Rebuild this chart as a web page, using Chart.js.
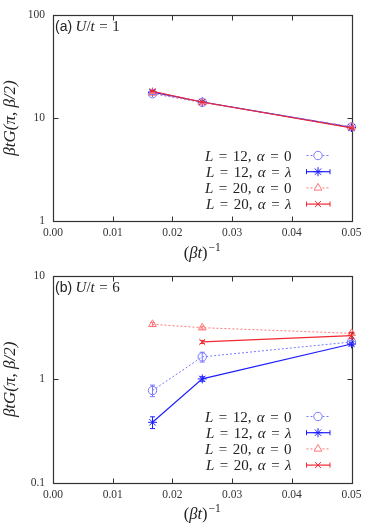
<!DOCTYPE html>
<html>
<head>
<meta charset="utf-8">
<script src="https://cdn.jsdelivr.net/npm/chart.js@4.4.1/dist/chart.umd.min.js"></script>
<style>
  html, body { margin:0; padding:0; background:#fff; }
  #wrap { position:relative; width:374px; height:523px; overflow:hidden; }
  canvas { position:absolute; left:0; }
</style>
</head>
<body>
<div id="wrap">
  <canvas id="cA" width="374" height="268" style="top:0px"></canvas>
  <canvas id="cB" width="374" height="262" style="top:261px"></canvas>
</div>
<script>
// ---------- DATA ----------
const xValues = [0.01667, 0.025, 0.05];
const xTicks = [0, 0.01, 0.02, 0.03, 0.04, 0.05];
const yTicksA = [1, 10, 100];
const yTicksB = [0.1, 1, 10];
const seriesLabels = ["L = 12, α = 0", "L = 12, α = λ", "L = 20, α = 0", "L = 20, α = λ"];
const panelTagA = "(a)";
const panelTextA = "U/t = 1";
const panelTagB = "(b)";
const panelTextB = "U/t = 6";
const yTitle = "βtG(π, β/2)";
const xTitleBase = "(βt)";
const xTitleSup = "−1";

// panel (a) U/t = 1
const a_L12_a0 = [17.2, 14.2, 8.2];
const a_L12_a0_err = [0.2, 0.2, 0.12];
const a_L12_al = [17.8, 14.3, 8.1];
const a_L12_al_err = [0.2, 0.2, 0.12];
const a_L20_a0 = [17.5, 14.1, 8.2];
const a_L20_a0_err = [0.2, 0.2, 0.12];
const a_L20_al = [18.2, 14.3, 8.0];
const a_L20_al_err = [0.2, 0.2, 0.12];

// panel (b) U/t = 6
const b_L12_a0 = [0.78, 1.65, 2.30];
const b_L12_a0_err = [0.10, 0.18, 0.08];
const b_L12_al = [0.384, 1.01, 2.20];
const b_L12_al_err = [0.05, 0.05, 0.05];
const b_L20_a0 = [3.41, 3.16, 2.79];
const b_L20_a0_err = [0.15, 0.10, 0.08];
const b_L20_al = [null, 2.30, 2.65];
const b_L20_al_err = [0, 0.08, 0.18];

// ---------- STYLES ----------
const styles = [
  { color:'rgb(120,120,255)', dash:[2,2], width:1, point:'circle', radius:4.2, caps:false },
  { color:'rgb(30,30,255)', dash:[], width:1.2, point:'star', radius:4.5, caps:true },
  { color:'rgb(255,120,120)', dash:[2,2], width:1, point:'triangle', radius:4.5, caps:false },
  { color:'rgb(240,40,50)', dash:[], width:1.2, point:'crossRot', radius:4.2, caps:true }
];

function pts(ys, errs) {
  const out = [];
  xValues.forEach((x, i) => { if (ys[i] !== null) out.push({x:x, y:ys[i], e:errs[i]}); });
  return out;
}

function italicRuns(str) {
  const runs = [];
  for (const ch of str) {
    const kind = ch === ' ' ? 'sp' : (/[A-Za-z\u03b1-\u03c9]/.test(ch) ? 'it' : 'rm');
    if (runs.length && runs[runs.length-1].k === kind) runs[runs.length-1].t += ch;
    else runs.push({t:ch, k:kind});
  }
  return runs;
}

function measureRich(ctx, str, size, spaceEm) {
  const runs = italicRuns(str);
  let w = 0;
  runs.forEach(r => {
    r.f = (r.k === 'it' ? 'italic ' : '') + size + 'px "Liberation Serif", serif';
    if (r.k === 'sp') r.w = r.t.length * size * spaceEm;
    else { ctx.font = r.f; r.w = ctx.measureText(r.t).width; }
    w += r.w;
  });
  return {runs, w};
}

function drawRich(ctx, str, x, y, size, align, spaceEm) {
  const m = measureRich(ctx, str, size, spaceEm || 0.25);
  let cx = align === 'right' ? x - m.w : (align === 'center' ? x - m.w/2 : x);
  ctx.textAlign = 'left';
  m.runs.forEach(r => { if (r.k !== 'sp') { ctx.font = r.f; ctx.fillText(r.t, cx, y); } cx += r.w; });
  return m.w;
}

const errorBars = {
  id:'errorBars',
  afterDatasetsDraw(chart) {
    const {ctx, scales:{x, y}} = chart;
    ctx.save();
    chart.data.datasets.forEach((ds, di) => {
      const st = styles[di];
      ctx.strokeStyle = st.color; ctx.lineWidth = 1; ctx.setLineDash([]);
      ds.data.forEach(p => {
        if (!p.e) return;
        const px = x.getPixelForValue(p.x);
        const y1 = y.getPixelForValue(p.y - p.e), y2 = y.getPixelForValue(p.y + p.e);
        ctx.beginPath();
        ctx.moveTo(px, y1); ctx.lineTo(px, y2);
        ctx.moveTo(px-2.5, y1); ctx.lineTo(px+2.5, y1);
        ctx.moveTo(px-2.5, y2); ctx.lineTo(px+2.5, y2);
        ctx.stroke();
      });
    });
    ctx.restore();
  }
};

const framePlugin = {
  id:'frame',
  beforeDatasetsDraw(chart) {
    const {ctx, chartArea:a, scales:{x, y}} = chart;
    ctx.save();
    ctx.strokeStyle = '#333'; ctx.lineWidth = 1;
    const L = Math.round(a.left)+0.5, R = Math.round(a.right)+0.5, T = Math.round(a.top)+0.5, B = Math.round(a.bottom)+0.5;
    ctx.beginPath();
    x.ticks.forEach(t => {
      const px = Math.round(x.getPixelForValue(t.value)) + 0.5;
      ctx.moveTo(px, B); ctx.lineTo(px, B-5);
      ctx.moveTo(px, T); ctx.lineTo(px, T+5);
    });
    y.ticks.forEach(t => {
      const py = Math.round(y.getPixelForValue(t.value)) + 0.5;
      ctx.moveTo(L, py); ctx.lineTo(L+5, py);
      ctx.moveTo(R, py); ctx.lineTo(R-5, py);
    });
    ctx.stroke();
    ctx.lineWidth = 1.2;
    ctx.strokeRect(L, T, R-L, B-T);
    ctx.restore();
  },
  afterDraw(chart, args, opts) {
    const {ctx, chartArea:a} = chart;
    ctx.save();
    ctx.fillStyle = '#222';
    ctx.textBaseline = 'alphabetic';
    // x axis title with superscript
    const base = measureRich(ctx, xTitleBase, 16.5, 0.25);
    ctx.font = '11.5px "Liberation Serif", serif';
    const supW = ctx.measureText(xTitleSup).width;
    const cxm = (a.left + a.right) / 2;
    const startX = cxm - (base.w + supW + 1) / 2;
    const by = a.bottom + 36.5;
    drawRich(ctx, xTitleBase, startX, by, 16.5, 'left', 0.25);
    ctx.font = '11.5px "Liberation Serif", serif';
    ctx.textAlign = 'left';
    ctx.fillText(xTitleSup, startX + base.w + 1, by - 7);
    // panel label
    ctx.font = '14px "Liberation Sans", Arial, sans-serif';
    ctx.textAlign = 'left';
    ctx.fillText(opts.tag, a.left + 2, a.top + 16);
    const tw = ctx.measureText(opts.tag).width;
    drawRich(ctx, opts.text, a.left + 2 + tw + 3.5, a.top + 16, 15, 'left', 0.3);
    // legend
    chart.data.datasets.forEach((ds, i) => {
      const st = styles[i];
      const cy = a.top + 140.5 + i * 16.2;
      ctx.fillStyle = '#222';
      drawRich(ctx, ds.label, a.right - 60, cy + 5, 15, 'right', 0.36);
      const x1 = a.right - 45, x2 = a.right - 21.5, mx = a.right - 33.5;
      ctx.strokeStyle = st.color; ctx.lineWidth = st.width;
      ctx.setLineDash(st.dash);
      ctx.beginPath(); ctx.moveTo(x1, cy); ctx.lineTo(x2, cy); ctx.stroke();
      ctx.setLineDash([]);
      if (st.caps) {
        ctx.lineWidth = 1;
        ctx.beginPath();
        ctx.moveTo(x1, cy-2.5); ctx.lineTo(x1, cy+2.5);
        ctx.moveTo(x2, cy-2.5); ctx.lineTo(x2, cy+2.5);
        ctx.stroke();
      }
      ctx.lineWidth = 1;
      ctx.fillStyle = '#fff';
      Chart.helpers.drawPoint(ctx, {pointStyle:st.point, radius:st.radius, borderWidth:1, rotation:0}, mx, cy);
    });
    ctx.restore();
  }
};

function makeChart(id, series, yTicks, yMin, yMax, tag, text, xAxisH, topPad) {
  const datasets = series.map((s, i) => ({
    label: seriesLabels[i],
    data: pts(s[0], s[1]),
    order: 3 - i,
    borderColor: styles[i].color,
    backgroundColor: 'rgba(0,0,0,0)',
    borderWidth: styles[i].width,
    borderDash: styles[i].dash,
    pointStyle: styles[i].point,
    pointRadius: styles[i].radius,
    pointBorderWidth: 1,
    pointBorderColor: styles[i].color,
    pointBackgroundColor: 'rgba(0,0,0,0)',
    tension: 0,
    fill: false,
    clip: false
  }));
  return new Chart(document.getElementById(id), {
    type: 'line',
    data: { datasets },
    options: {
      responsive: false,
      animation: false,
      devicePixelRatio: 1,
      layout: { padding: { left:0, right:22.5, top:topPad, bottom:0 } },
      plugins: {
        legend: { display:false },
        tooltip: { enabled:false },
        frame: { tag: tag, text: text }
      },
      scales: {
        x: {
          type: 'linear', min: 0, max: 0.05,
          afterBuildTicks: s => { s.ticks = xTicks.map(v => ({value:v})); },
          afterFit: s => { s.height = xAxisH; },
          ticks: { padding: 5, color:'#333', font:{ family:'"Liberation Serif", serif', size:11.5 }, callback: v => Number(v).toFixed(2), maxRotation:0 },
          grid: { display:false, drawTicks:false },
          border: { display:false },
          title: { display:false }
        },
        y: {
          type: 'logarithmic', min: yMin, max: yMax,
          afterBuildTicks: s => { s.ticks = yTicks.map(v => ({value:v})); },
          afterFit: s => { s.width = 53; },
          ticks: { padding: 8, color:'#333', font:{ family:'"Liberation Serif", serif', size:11.5 }, callback: v => String(v) },
          grid: { display:false, drawTicks:false },
          border: { display:false },
          title: { display:true, text:yTitle, color:'#222', padding:{top:2, bottom:0}, font:{ family:'"Liberation Serif", serif', size:17, style:'italic', lineHeight:1 } }
        }
      }
    },
    plugins: [framePlugin, errorBars]
  });
}

makeChart('cA', [
  [a_L12_a0, a_L12_a0_err], [a_L12_al, a_L12_al_err], [a_L20_a0, a_L20_a0_err], [a_L20_al, a_L20_al_err]
], yTicksA, 1, 100, panelTagA, panelTextA, 47, 15);

makeChart('cB', [
  [b_L12_a0, b_L12_a0_err], [b_L12_al, b_L12_al_err], [b_L20_a0, b_L20_a0_err], [b_L20_al, b_L20_al_err]
], yTicksB, 0.1, 10, panelTagB, panelTextB, 40.3, 15);
</script>
</body>
</html>
